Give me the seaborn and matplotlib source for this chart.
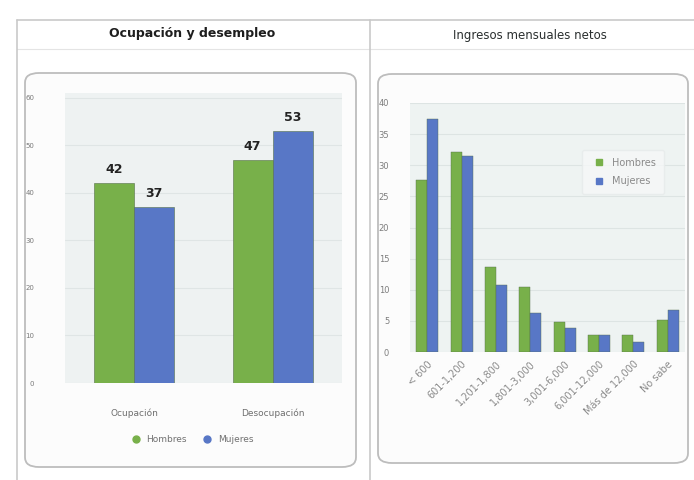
import numpy as np
import pandas as pd
import matplotlib
matplotlib.use("Agg")
import matplotlib.pyplot as plt
from matplotlib.patches import FancyBboxPatch
from matplotlib.lines import Line2D
import seaborn as sns

sns.set_theme(style="white")
plt.rcParams["font.family"] = ["DejaVu Sans"]

# --- data -------------------------------------------------------------
sexos = ["Hombres", "Mujeres"]
colores = ["#78b04a", "#5877c6"]

ocup_categorias = ["Ocupación", "Desocupación"]
ocup_hombres = [42, 47]
ocup_mujeres = [37, 53]

ingreso_categorias = ["< 600", "601-1,200", "1,201-1,800", "1,801-3,000",
                      "3,001-6,000", "6,001-12,000", "Más de 12,000", "No sabe"]
ingreso_hombres = [27.7, 32.1, 13.7, 10.5, 4.8, 2.7, 2.7, 5.2]
ingreso_mujeres = [37.4, 31.5, 10.8, 6.3, 3.9, 2.7, 1.6, 6.8]

W, H = 694, 480
fig = plt.figure(figsize=(W / 100, H / 100), dpi=100)
fig.patch.set_facecolor("white")


def px_box(x0, y0, x1, y1):
    """Pixel box (top-left origin) -> figure-fraction rect."""
    return [x0 / W, (H - y1) / H, (x1 - x0) / W, (y1 - y0) / H]


# --- header and panel frames ------------------------------------------
frame_col = "#c9c9c9"
fig.add_artist(Line2D([17 / W, 1], [1 - 20 / H] * 2, color=frame_col, lw=1.2))
fig.add_artist(Line2D([17 / W, 1], [1 - 49 / H] * 2, color="#e4e4e4", lw=0.8))
fig.add_artist(Line2D([17 / W] * 2, [0, 1 - 20 / H], color=frame_col, lw=1.2))
fig.add_artist(Line2D([370 / W] * 2, [0, 1 - 20 / H], color=frame_col, lw=1.2))

for (x0, y0, x1, y1) in [(25, 73, 356, 467), (378, 74, 688, 463)]:
    fig.add_artist(FancyBboxPatch((x0 / W, (H - y1) / H), (x1 - x0) / W, (y1 - y0) / H,
                                  boxstyle="round,pad=0,rounding_size=0.02",
                                  transform=fig.transFigure, facecolor="#fcfcfc",
                                  edgecolor="#bdbdbd", lw=1.3, zorder=0))

fig.text(192 / W, 1 - 33 / H, "Ocupación y desempleo", ha="center", va="center",
         fontsize=9, fontweight="bold", color="#1e1e1e")
fig.text(530 / W, 1 - 36 / H, "Ingresos mensuales netos", ha="center", va="center",
         fontsize=8.5, color="#2a2f2f")

# --- left: occupation / unemployment ----------------------------------
df_ocup = pd.DataFrame({
    "categoria": ocup_categorias * 2,
    "valor": ocup_hombres + ocup_mujeres,
    "sexo": [sexos[0]] * len(ocup_categorias) + [sexos[1]] * len(ocup_categorias),
})
ax1 = fig.add_axes(px_box(65, 93, 342, 383))
sns.barplot(data=df_ocup, x="categoria", y="valor", hue="sexo", hue_order=sexos,
            palette=colores, width=0.58, ax=ax1, legend=False,
            edgecolor="#55704a", linewidth=0.4, saturation=1)
ax1.set_facecolor("#eef2f2")
ax1.set_ylim(0, 61)
ax1.set_xlim(-0.5, 1.5)
ax1.set_yticks(range(0, 61, 10))
ax1.yaxis.grid(True, color="#dfe5e5", lw=0.8)
ax1.set_axisbelow(True)
ax1.tick_params(axis="y", labelsize=5, colors="#7a7a7a", pad=22, length=0)
ax1.tick_params(axis="x", labelsize=6.5, colors="#6f6f6f", pad=18, length=0)
ax1.set_xlabel("")
ax1.set_ylabel("")
for s in ax1.spines.values():
    s.set_visible(False)
for cont in ax1.containers:
    ax1.bar_label(cont, fmt="%d", padding=5, fontsize=9, fontweight="bold",
                  color="#222222")

handles1 = [Line2D([], [], marker="o", ls="", markersize=5, color=c) for c in colores]
fig.legend(handles1, sexos, loc="center", bbox_to_anchor=(190 / W, 1 - 440 / H),
           ncol=2, frameon=False, fontsize=6.5, labelcolor="#707070",
           handletextpad=0.2, columnspacing=1.2)

# --- right: monthly income --------------------------------------------
df_ing = pd.DataFrame({
    "categoria": ingreso_categorias * 2,
    "valor": ingreso_hombres + ingreso_mujeres,
    "sexo": [sexos[0]] * len(ingreso_categorias) + [sexos[1]] * len(ingreso_categorias),
})
ax2 = fig.add_axes(px_box(410, 103, 685, 352))
sns.barplot(data=df_ing, x="categoria", y="valor", hue="sexo", hue_order=sexos,
            palette=colores, width=0.64, ax=ax2, legend=False,
            edgecolor="#55704a", linewidth=0.3, saturation=1)
ax2.set_facecolor("#eef3f2")
ax2.set_ylim(0, 40)
ax2.set_xlim(-0.5, len(ingreso_categorias) - 0.5)
ax2.set_yticks(range(0, 41, 5))
ax2.yaxis.grid(True, color="#dde4e3", lw=0.8)
ax2.set_axisbelow(True)
ax2.tick_params(axis="y", labelsize=6, colors="#7d7d7d", pad=15, length=0)
ax2.tick_params(axis="x", labelsize=7, colors="#8a8a8a", pad=5, length=0)
plt.setp(ax2.get_xticklabels(), rotation=45, ha="right", rotation_mode="anchor")
ax2.set_xlabel("")
ax2.set_ylabel("")
for s in ax2.spines.values():
    s.set_visible(False)

handles2 = [Line2D([], [], marker="s", ls="", markersize=4, color=c) for c in colores]
leg = ax2.legend(handles2, sexos, loc="upper left",
                 bbox_to_anchor=((577 - 410) / 275, 1 - (145 - 103) / 249),
                 frameon=True, fontsize=7, labelcolor="#8a8a8a",
                 handletextpad=0.3, borderpad=0.8, labelspacing=0.9)
leg.get_frame().set_facecolor("#f6f8f8")
leg.get_frame().set_edgecolor("#e6eaea")

fig.savefig("out.png", dpi=100, facecolor=fig.get_facecolor())
